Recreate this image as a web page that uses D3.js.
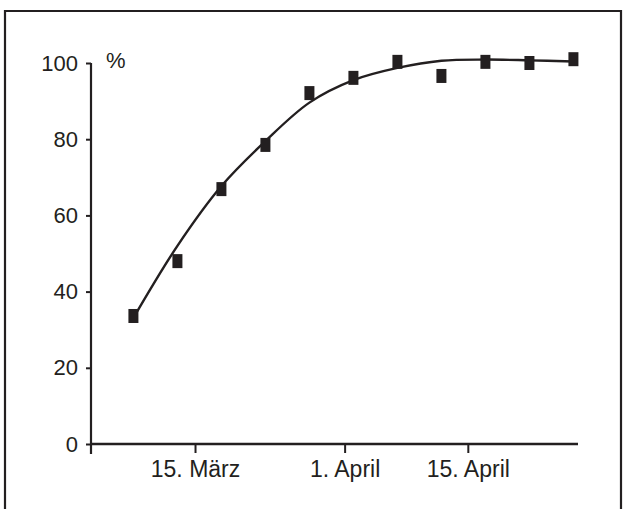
<!DOCTYPE html>
<html><head><meta charset="utf-8">
<script src="https://cdn.jsdelivr.net/npm/d3@7"></script>
<style>html,body{margin:0;padding:0;background:#fff;}svg{display:block;}</style>
</head><body>
<script>
// Observation dates (2001 used as a reference year)
const dates = ["2001-03-08","2001-03-13","2001-03-18","2001-03-23","2001-03-28","2001-04-02","2001-04-07","2001-04-12","2001-04-17","2001-04-22","2001-04-27"];
const observed = [33.6, 48.0, 66.9, 78.5, 92.1, 96.1, 100.3, 96.6, 100.3, 100.0, 101.0];
const fitted = [33.1, 52.0, 67.7, 79.5, 89.6, 95.5, 98.7, 100.6, 100.9, 100.7, 100.4];
const yTicks = [0, 20, 40, 60, 80, 100];
const xTickDates = ["2001-03-15","2001-04-01","2001-04-15"];
const xTickLabels = ["15. März","1. April","15. April"];
const yUnit = "%";

const W = 623, H = 509, ink = "#231f20";
const svg = d3.select("body").append("svg").attr("width", W).attr("height", H);

// frame
svg.append("path").attr("d", `M5,${H+2} V11 H621 V${H+2}`)
  .attr("fill","none").attr("stroke", ink).attr("stroke-width", 2.2);

const parse = d3.utcParse("%Y-%m-%d");
const x = d3.scaleUtc()
  .domain([new Date(Date.UTC(2001,2,3,4,19)), new Date(Date.UTC(2001,3,27,12,29))])
  .range([91, 578]);
const y = d3.scaleLinear().domain([0, 100]).range([444, 63]);

const font = "'Liberation Sans', Arial, Helvetica, sans-serif";

// y axis
const yAxis = svg.append("g").attr("transform", "translate(91,0)")
  .call(d3.axisLeft(y).tickValues(yTicks).tickSize(5).tickPadding(8).tickSizeOuter(0));
yAxis.select(".domain").attr("stroke", ink).attr("stroke-width", 2.2)
  .attr("d", `M0,${y(100)}V${y(0)+10}`);
yAxis.selectAll(".tick line").attr("stroke", ink).attr("stroke-width", 2);
yAxis.selectAll(".tick text").attr("fill", ink).style("font-family", font).style("font-size", "22px");

// x axis
const xAxis = svg.append("g").attr("transform", `translate(0,${y(0)})`)
  .call(d3.axisBottom(x).tickValues(xTickDates.map(parse)).tickSize(9).tickPadding(8)
    .tickFormat((d, i) => xTickLabels[i]).tickSizeOuter(0));
xAxis.select(".domain").attr("stroke", ink).attr("stroke-width", 2.6)
  .attr("d", `M90,0H578`);
xAxis.selectAll(".tick line").attr("stroke", ink).attr("stroke-width", 2);
xAxis.selectAll(".tick text").attr("fill", ink).style("font-family", font).style("font-size", "23px");

// unit
svg.append("text").attr("x", 106).attr("y", y(100) + 5).text(yUnit)
  .attr("fill", ink).style("font-family", font).style("font-size", "22px");

// fitted curve
const data = dates.map((d, i) => ({ date: parse(d), obs: observed[i], fit: fitted[i] }));
svg.append("path").datum(data)
  .attr("fill", "none").attr("stroke", ink).attr("stroke-width", 2.4)
  .attr("d", d3.line().x(d => x(d.date)).y(d => y(d.fit)).curve(d3.curveCatmullRom.alpha(0.5)));

// observed markers
const mw = 10, mh = 14;
svg.append("g").selectAll("rect").data(data).join("rect")
  .attr("x", d => x(d.date) - mw / 2).attr("y", d => y(d.obs) - mh / 2)
  .attr("width", mw).attr("height", mh).attr("fill", ink);
</script>
</body></html>
